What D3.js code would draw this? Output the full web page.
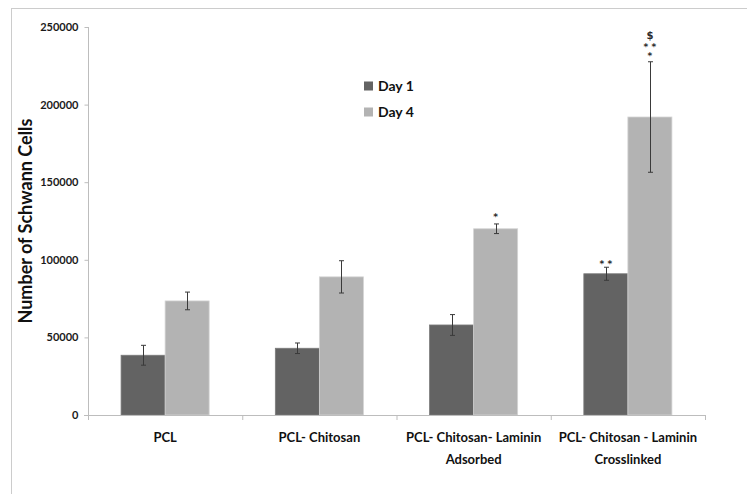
<!DOCTYPE html>
<html>
<head>
<meta charset="utf-8">
<script src="https://cdn.jsdelivr.net/npm/d3@7/dist/d3.min.js"></script>
<style>
  html, body { margin: 0; padding: 0; background: #fff; }
  svg { display: block; font-family: Lato, "Open Sans", sans-serif; }
</style>
</head>
<body>
<svg id="chart" width="747" height="494"></svg>
<script>
// Schwann cell counts per scaffold, day 1 and day 4
const categories = [
  ["PCL"],
  ["PCL- Chitosan"],
  ["PCL- Chitosan- Laminin", "Adsorbed"],
  ["PCL- Chitosan - Laminin", "Crosslinked"]
];
const seriesNames = ["Day 1", "Day 4"];
const day1 = [38500, 43000, 58000, 91000];
const day4 = [73500, 89000, 120000, 192000];
const day1Err = [6400, 3400, 6700, 4200];
const day4Err = [5700, 10400, 3100, 35600];
const yTicks = [0, 50000, 100000, 150000, 200000, 250000];
// significance marks: [category index, series index, text lines from bottom up]
const marks = [
  [2, 1, ["*"]],
  [3, 0, ["* *"]],
  [3, 1, ["*", "* *", "$"]]
];

const colors = ["#636363", "#b3b3b3"];
const svg = d3.select("#chart");

// outer frame (only top and left edges fall inside the view)
svg.append("rect")
  .attr("x", 11.5).attr("y", 8.5)
  .attr("width", 800).attr("height", 600)
  .attr("fill", "none").attr("stroke", "#cccccc").attr("stroke-width", 1);

const plotLeft = 88, plotRight = 705, plotTop = 27, plotBottom = 415;

const y = d3.scaleLinear().domain([0, 250000]).range([plotBottom, plotTop]);
const x0 = d3.scaleBand().domain(d3.range(categories.length)).range([plotLeft, plotRight]).padding(0);
const groupW = x0.bandwidth() * 0.571;
const x1 = d3.scaleBand().domain([0, 1]).range([0, groupW]).padding(0);
const groupOff = (x0.bandwidth() - groupW) / 2;

const values = [day1, day4];
const errs = [day1Err, day4Err];

// y axis
const yAxis = d3.axisLeft(y).tickValues(yTicks).tickSize(4).tickPadding(6).tickFormat(d3.format("d"));
const gy = svg.append("g").attr("transform", `translate(${plotLeft + 0.5},0)`).call(yAxis);
gy.select(".domain").attr("stroke", "#bdbdbd").attr("d", `M0,${plotTop}V${plotBottom}`);
gy.selectAll(".tick line").attr("stroke", "#bdbdbd");
gy.selectAll(".tick text").attr("font-size", 11).attr("font-weight", "bold").attr("fill", "#1a1a1a")
  .attr("font-family", "Lato, sans-serif");

// bars
categories.forEach((c, i) => {
  [0, 1].forEach(s => {
    const v = values[s][i];
    svg.append("rect")
      .attr("x", x0(i) + groupOff + x1(s))
      .attr("y", y(v))
      .attr("width", x1.bandwidth())
      .attr("height", y(0) - y(v))
      .attr("fill", colors[s])
      .attr("stroke", s === 1 ? "#d4d4d4" : "#7a7a7a")
      .attr("stroke-width", 0.8);
  });
});

// x axis
const xAxisY = plotBottom + 0.5;
svg.append("line").attr("x1", plotLeft - 4).attr("x2", plotRight).attr("y1", xAxisY).attr("y2", xAxisY)
  .attr("stroke", "#bdbdbd");
const bounds = d3.range(categories.length + 1).map(i => i < categories.length ? x0(i) : plotRight);
bounds.forEach(b => {
  svg.append("line").attr("x1", b + 0.5).attr("x2", b + 0.5).attr("y1", plotBottom).attr("y2", plotBottom + 5)
    .attr("stroke", "#bdbdbd");
});

// error bars
categories.forEach((c, i) => {
  [0, 1].forEach(s => {
    const cx = Math.round(x0(i) + groupOff + x1(s) + x1.bandwidth() / 2) + 0.5;
    const hi = y(values[s][i] + errs[s][i]);
    const lo = y(values[s][i] - errs[s][i]);
    const g = svg.append("g").attr("stroke", "#3a3a3a").attr("stroke-width", 1);
    g.append("line").attr("x1", cx).attr("x2", cx).attr("y1", hi).attr("y2", lo);
    g.append("line").attr("x1", cx - 2.5).attr("x2", cx + 2.5).attr("y1", hi).attr("y2", hi);
    g.append("line").attr("x1", cx - 2.5).attr("x2", cx + 2.5).attr("y1", lo).attr("y2", lo);
  });
});

// significance marks above error bars, stacked lines in one text block
const lineOffsets = [8, 17, 27];
marks.forEach(([i, s, lines]) => {
  const cx = x0(i) + groupOff + x1(s) + x1.bandwidth() / 2;
  const hi = y(values[s][i] + errs[s][i]);
  const t = svg.append("text")
    .attr("text-anchor", "middle")
    .attr("font-family", "'DejaVu Sans', sans-serif")
    .attr("font-weight", "bold").attr("fill", "#2a2a2a")
    .attr("xml:space", "preserve");
  lines.forEach((str, k) => {
    const off = lines.length === 1 && s === 0 ? 6 : (lines.length === 1 ? 9 : lineOffsets[k]);
    const isStar = str.indexOf("*") >= 0;
    t.append("tspan")
      .attr("x", cx)
      .attr("y", hi - off + (isStar ? 5.5 : 4))
      .attr("font-size", isStar ? 9 : 10)
      .text(str);
  });
});

// category labels
categories.forEach((lines, i) => {
  const cx = x0(i) + x0.bandwidth() / 2;
  lines.forEach((t, k) => {
    svg.append("text")
      .attr("x", cx).attr("y", 442 + k * 22)
      .attr("text-anchor", "middle")
      .attr("font-size", 13).attr("font-weight", "bold").attr("fill", "#111")
      .text(t);
  });
});

// y axis title
svg.append("text")
  .attr("transform", "translate(32,221) rotate(-90)")
  .attr("text-anchor", "middle")
  .attr("font-size", 18).attr("font-weight", "bold").attr("fill", "#111")
  .text("Number of Schwann Cells");

// legend
seriesNames.forEach((n, k) => {
  const ly = 86 + k * 26;
  svg.append("rect").attr("x", 364).attr("y", ly - 4.5).attr("width", 9).attr("height", 9)
    .attr("fill", colors[k]);
  svg.append("text").attr("x", 378).attr("y", ly + 5)
    .attr("font-size", 14).attr("font-weight", "bold").attr("fill", "#111")
    .text(n);
});
</script>
</body>
</html>
